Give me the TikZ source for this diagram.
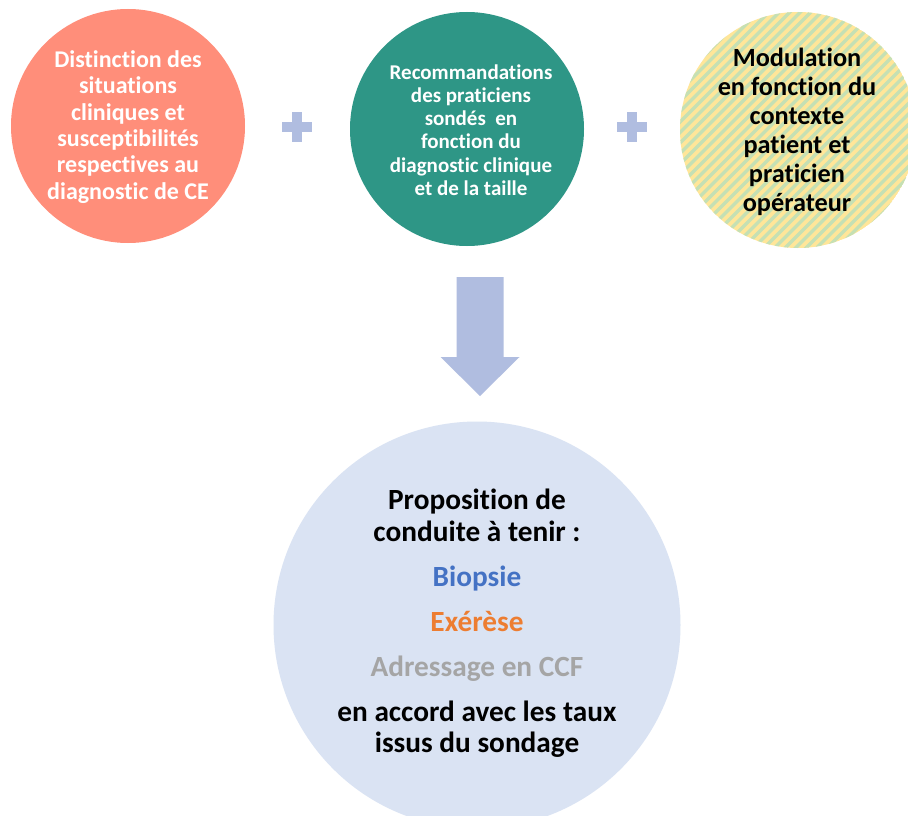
\documentclass[tikz,border=0pt]{standalone}
\usepackage{fontspec}
\setmainfont{Carlito}[Ligatures=NoCommon]
\usetikzlibrary{calc}
\definecolor{salmon}{HTML}{FF8E7A}
\definecolor{tealc}{HTML}{2E9686}
\definecolor{stripeY}{HTML}{FFE699}
\definecolor{stripeG}{HTML}{C5E0B4}
\definecolor{plusblue}{HTML}{B0BDE0}
\definecolor{paleblue}{HTML}{DAE3F3}
\definecolor{biopsie}{HTML}{4472C4}
\definecolor{exerese}{HTML}{ED7D31}
\definecolor{adress}{HTML}{A5A5A5}
\begin{document}
\begin{tikzpicture}[x=1pt,y=-1pt,
  bubble/.style={circle,inner sep=0pt,minimum size=#1},
  txt/.style={align=center,inner sep=0pt},
  plusshape/.style={fill=plusblue,draw=none}]
\useasboundingbox[fill=white] (0,0) rectangle (908,816);
% circles
\node[bubble=234pt,fill=salmon] (c1) at (128,126) {};
\node[bubble=234pt,fill=tealc] (c2) at (467,129) {};
\node[bubble=236pt] (c3) at (798,130) {};
\begin{scope}
  \clip (c3.center) circle (118);
  \fill[stripeY] (c3.center) circle (118);
  \foreach \k in {-40,...,40}{
    \draw[stripeG,line width=3.4pt] ($(c3.center)+(\k*10.5-200,200)$) -- ++(400,-400);
  }
\end{scope}
\node[bubble=407pt,fill=paleblue] (c4) at (477,625) {};
% texts
\node[txt,text=white,font=\bfseries\fontsize{24}{26.3}\selectfont] (t1) at (128,127)
  {Distinction des\\situations\\cliniques et\\susceptibilités\\respectives au\\diagnostic de CE};
\node[txt,text=white,font=\bfseries\fontsize{21}{23.3}\selectfont] (t2) at (471,130)
  {Recommandations\\des praticiens\\sondés\ \ en\\fonction du\\diagnostic clinique\\et de la taille};
\node[txt,text=black,font=\bfseries\fontsize{26.3}{29}\selectfont] (t3) at (797,132)
  {Modulation\\en fonction du\\contexte\\patient et\\praticien\\opérateur};
\node[txt,text=black,font=\bfseries\fontsize{29.3}{31.5}\selectfont] (t4) at (477,623.5)
  {Proposition de\\conduite à tenir :\\[13.5pt]
   \textcolor{biopsie}{Biopsie}\\[13.5pt]
   \textcolor{exerese}{Exérèse}\\[13.5pt]
   \textcolor{adress}{Adressage en CCF}\\[13.5pt]
   en accord avec les taux\\issus du sondage};
% plus signs
\coordinate (p1) at (297,127);
\coordinate (p2) at (632,127);
\foreach \p in {p1,p2}{
  \fill[plusshape] ($(\p)+(-15,-5)$) rectangle ($(\p)+(15,5)$);
  \fill[plusshape] ($(\p)+(-5,-15)$) rectangle ($(\p)+(5,15)$);
}
% block arrow
\coordinate (a0) at (480,277);
\fill[plusblue] ($(a0)+(-23.5,0)$) -- ($(a0)+(23.5,0)$) -- ($(a0)+(23.5,80)$) -- ($(a0)+(39.5,80)$)
  -- ($(a0)+(0,119)$) -- ($(a0)+(-39.5,80)$) -- ($(a0)+(-23.5,80)$) -- cycle;
\end{tikzpicture}
\end{document}
